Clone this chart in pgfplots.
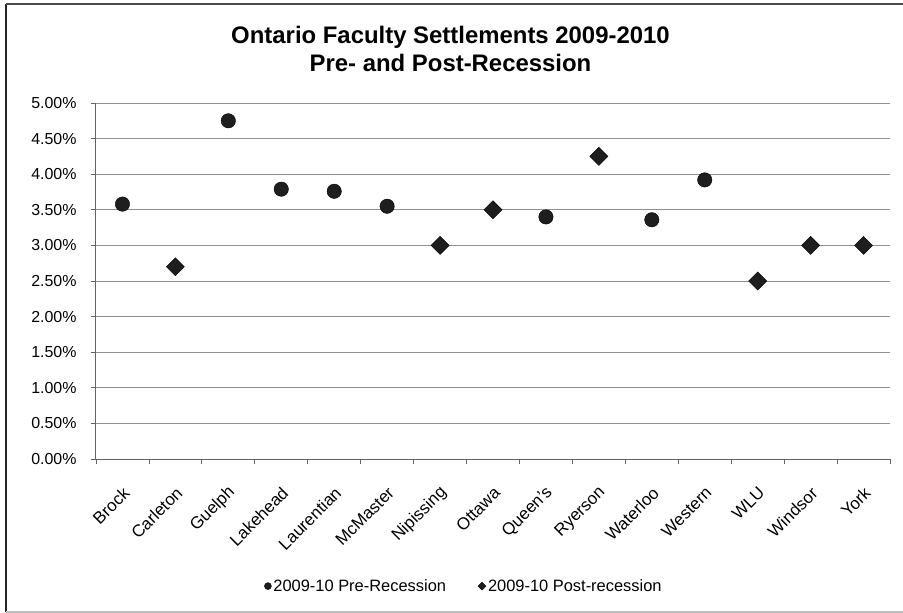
\documentclass[border=0pt]{standalone}
\usepackage{pgfplots}
\pgfplotsset{compat=1.18}
\usepackage{fontspec}
\setmainfont{Liberation Sans}

\definecolor{gridgray}{RGB}{145,145,145}
\definecolor{axisgray}{RGB}{100,100,100}
\definecolor{markfill}{RGB}{30,30,30}

\begin{document}
\begin{tikzpicture}[x=1bp,y=1bp]
  % whole-chart canvas and frame
  \path[use as bounding box] (-96bp,-154bp) rectangle (807bp,459bp);
  \draw[black!85, line width=2bp] (-90bp,-153bp) -- (-90bp,455bp);
  \draw[black!70, line width=1.2bp] (-90bp,455bp) -- (807bp,455bp);
  \draw[black!25, line width=1.2bp] (-90bp,-153bp) -- (807bp,-153bp);

  \begin{axis}[
      at={(0,0)}, anchor=south west,
      scale only axis,
      width=794bp, height=356bp,
      xmin=-0.5, xmax=14.5,
      ymin=0, ymax=5,
      xtick={0,...,14},
      xticklabels={Brock,Carleton,Guelph,Lakehead,Laurentian,McMaster,Nipissing,Ottawa,Queen's,Ryerson,Waterloo,Western,WLU,Windsor,York},
      minor xtick={-0.5,0.5,...,14.5},
      ytick={0,0.5,...,5},
      major x tick style={draw=none},
      minor tick length=5bp,
      major tick length=5bp,
      tick align=outside,
      tick style={axisgray, line width=0.8bp},
      axis x line*=bottom,
      axis y line*=left,
      axis line style={axisgray, line width=1bp, -},
      ymajorgrids,
      grid style={gridgray, line width=0.7bp},
      /pgf/number format/assume math mode=true,
      yticklabel={\pgfmathprintnumber[fixed,fixed zerofill,precision=2]{\tick}\%},
      yticklabel style={font=\fontsize{16}{18}\selectfont, xshift=-11bp},
      xticklabel style={font=\fontsize{17}{19}\selectfont, xshift=4bp, yshift=-26bp,
                        rotate=45, anchor=east, inner sep=0bp},
      legend style={at={(0.4635,-0.357)}, anchor=center, draw=none, fill=none,
                    legend columns=2, font=\fontsize{16.5}{19}\selectfont,
                    /tikz/every even column/.append style={column sep=30bp}},
      legend cell align=left,
      clip=false,
    ]
    % 2009-10 pre-recession settlements
    \addplot[only marks, mark=*, mark size=7.2bp, draw=black, fill=markfill,
             legend image post style={mark size=3.5bp}]
      coordinates {
        (0,3.58) (2,4.75) (3,3.79) (4,3.76) (5,3.55)
        (8,3.40) (10,3.36) (11,3.92)
      };
    \addlegendentry{2009-10 Pre-Recession}
    % 2009-10 post-recession settlements
    \addplot[only marks, mark=square*, mark size=6.4bp, mark options={rotate=45},
             draw=black, fill=markfill,
             legend image post style={mark size=2.8bp}]
      coordinates {
        (1,2.70) (6,3.00) (7,3.50) (9,4.25) (12,2.50) (13,3.00) (14,3.00)
      };
    \addlegendentry{2009-10 Post-recession}
  \end{axis}

  % chart title
  \node[align=center, font=\bfseries\fontsize{24}{29}\selectfont]
    at (354.5bp,410bp) {Ontario Faculty Settlements 2009-2010\\Pre- and Post-Recession};
\end{tikzpicture}
\end{document}
